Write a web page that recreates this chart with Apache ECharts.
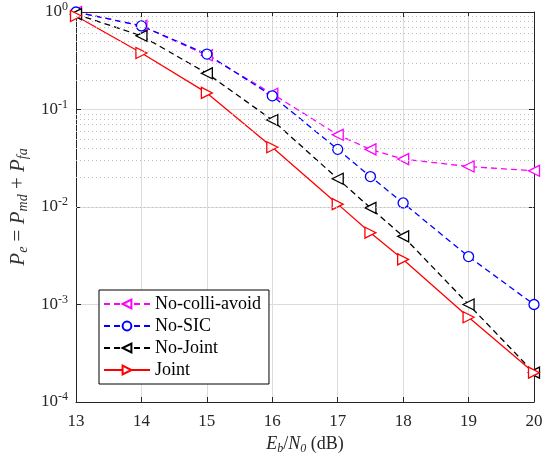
<!DOCTYPE html>
<html>
<head>
<meta charset="utf-8">
<script src="https://cdn.jsdelivr.net/npm/echarts@6/dist/echarts.min.js"></script>
<style>
  html, body { margin: 0; padding: 0; background: #fff; }
  #main { width: 546px; height: 454px; }
</style>
</head>
<body>
<div id="main"></div>
<script>
// x values (dB)
const ebn0 = [13, 14, 15, 16, 17, 17.5, 18, 19, 20];
// series values
const noColliAvoid = [1.0, 0.72, 0.36, 0.145, 0.055, 0.039, 0.031, 0.026, 0.0235];
const noSIC = [1.0, 0.72, 0.37, 0.138, 0.039, 0.0205, 0.011, 0.0031, 0.001];
const noJoint = [0.95, 0.57, 0.235, 0.078, 0.0195, 0.0098, 0.005, 0.001, 0.0002];
const joint = [0.91, 0.38, 0.148, 0.041, 0.0107, 0.00545, 0.0029, 0.00074, 0.0002];
const xTicks = [13, 14, 15, 16, 17, 18, 19, 20];
// minor grid lines of the log axis (2..9 x 10^k)
const minorMult = [2, 3, 4, 5, 6, 7, 8, 9];
const decades = [-4, -3, -2, -1];

const minorLines = [];
decades.forEach(function (d) {
  minorMult.forEach(function (m) {
    minorLines.push({ yAxis: m * Math.pow(10, d) });
  });
});

const serif = "Liberation Serif";
const ink = "#262626";
const chart = echarts.init(document.getElementById("main"));

function pairs(ys) {
  return ebn0.map(function (x, i) { return [x, ys[i]]; });
}

function makeSeries(name, ys, color, dash, symbol, rot) {
  return {
    name: name,
    type: "line",
    data: pairs(ys),
    symbol: symbol,
    symbolSize: symbol === "circle" ? 10 : 11,
    symbolRotate: rot,
    showSymbol: true,
    itemStyle: { color: "#fff", borderColor: color, borderWidth: 1.3 },
    lineStyle: { color: color, width: 1.3, type: dash },
    emphasis: { disabled: true },
    z: 3
  };
}

const option = {
  animation: false,
  textStyle: { fontFamily: serif },
  grid: { left: 76, right: 12, top: 12, bottom: 52, outerBoundsMode: "none", containLabel: false },
  legend: {
    left: 99,
    top: 290,
    orient: "vertical",
    backgroundColor: "#fff",
    borderColor: "#000",
    borderWidth: 1,
    padding: [5, 8, 5, 4],
    itemGap: 4,
    itemWidth: 46,
    itemHeight: 11,
    textStyle: { fontFamily: serif, fontSize: 18, color: "#000" },
    data: ["No-colli-avoid", "No-SIC", "No-Joint", "Joint"]
  },
  xAxis: [{
    type: "value",
    min: 13,
    max: 20,
    interval: 1,
    name: "{i|E}{s|b}{n|/}{i|N}{s|0}{n| (dB)}",
    nameLocation: "middle",
    nameGap: 30,
    nameTextStyle: {
      rich: {
        i: { fontFamily: serif, fontStyle: "italic", fontSize: 18, color: ink },
        n: { fontFamily: serif, fontSize: 18, color: ink },
        s: { fontFamily: serif, fontStyle: "italic", fontSize: 12, color: ink, padding: [9, 0, 0, 0] }
      }
    },
    axisLine: { onZero: false, lineStyle: { color: ink, width: 1 } },
    axisTick: { inside: true, length: 5, lineStyle: { color: ink } },
    axisLabel: { fontFamily: serif, fontSize: 17, color: ink, margin: 11 },
    splitLine: { show: true, lineStyle: { color: "#dcdcdc", width: 1 } }
  }, {
    type: "value",
    position: "top",
    min: 13,
    max: 20,
    interval: 1,
    axisLine: { show: true, onZero: false, lineStyle: { color: ink, width: 1 } },
    axisTick: { show: true, inside: true, length: 5, lineStyle: { color: ink } },
    axisLabel: { show: false },
    splitLine: { show: false }
  }],
  yAxis: [{
    type: "log",
    logBase: 10,
    min: 1e-4,
    max: 1,
    name: "{i|P}{s|e}{n| = }{i|P}{s|md}{n| + }{i|P}{s|fa}",
    nameLocation: "middle",
    nameRotate: 90,
    nameGap: 41,
    nameTextStyle: {
      fontWeight: "normal",
      rich: {
        i: { fontFamily: serif, fontStyle: "italic", fontWeight: "normal", fontSize: 21, color: "#333" },
        n: { fontFamily: serif, fontWeight: "normal", fontSize: 21, color: "#333" },
        s: { fontFamily: serif, fontStyle: "italic", fontWeight: "normal", fontSize: 14, color: "#333", padding: [10, 0, 0, 0] }
      }
    },
    axisLine: { show: true, lineStyle: { color: ink, width: 1 } },
    axisTick: { inside: true, length: 5, lineStyle: { color: ink } },
    axisLabel: {
      margin: 8,
      formatter: function (v) {
        return "{b|10}{e|" + Math.round(Math.log10(v)) + "}";
      },
      rich: {
        b: { fontFamily: serif, fontSize: 17, color: ink },
        e: { fontFamily: serif, fontSize: 12, color: ink, padding: [0, 0, 10, 0] }
      }
    },
    splitLine: { show: true, lineStyle: { color: "#dcdcdc", width: 1 } }
  }, {
    type: "log",
    logBase: 10,
    min: 1e-4,
    max: 1,
    position: "right",
    axisLine: { show: true, lineStyle: { color: ink, width: 1 } },
    axisTick: { show: true, inside: true, length: 5, lineStyle: { color: ink } },
    axisLabel: { show: false },
    splitLine: { show: false }
  }],
  series: [
    {
      type: "line",
      data: [],
      silent: true,
      markLine: {
        silent: true,
        symbol: "none",
        label: { show: false },
        lineStyle: { color: "#bdbdbd", type: [1, 3], width: 1 },
        data: minorLines
      },
      z: 1
    },
    makeSeries("No-colli-avoid", noColliAvoid, "#ff00ff", [6, 4], "triangle", 90),
    makeSeries("No-SIC", noSIC, "#0000ff", [6, 4], "circle", 0),
    makeSeries("No-Joint", noJoint, "#000000", [6, 4], "triangle", 90),
    makeSeries("Joint", joint, "#ff0000", "solid", "triangle", -90)
  ]
};

chart.setOption(option);
</script>
</body>
</html>
